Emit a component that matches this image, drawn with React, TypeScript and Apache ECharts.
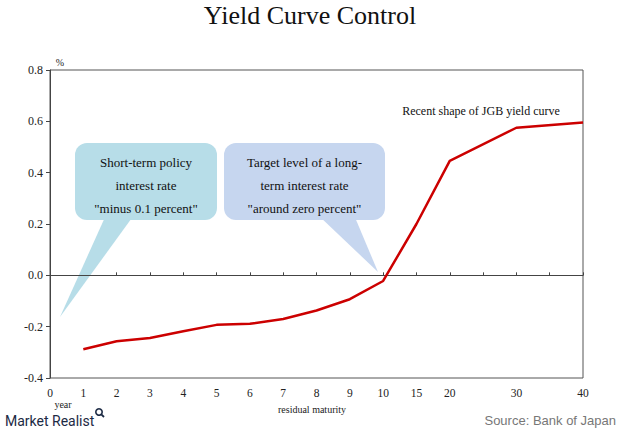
import React, { useEffect, useRef } from "react";
import * as echarts from "echarts";

const categories = ["0", "1", "2", "3", "4", "5", "6", "7", "8", "9", "10", "15", "20", "", "30", "", "40"];
const yields: (number | null)[] = [null, -0.288, -0.257, -0.244, -0.218, -0.193, -0.189, -0.17, -0.137, -0.093, -0.022, 0.2, 0.446, null, 0.575, null, 0.595];
const yMin = -0.4;
const yMax = 0.8;
const yStep = 0.2;

const SERIF = "Liberation Serif";
const SANS = "Liberation Sans";

export default function App() {
  const ref = useRef<HTMLDivElement>(null);
  useEffect(() => {
    if (!ref.current) return;
    const chart = echarts.init(ref.current, undefined, { renderer: "svg" });
    const option: any = {
      animation: false,
      backgroundColor: "#ffffff",
      textStyle: { fontFamily: SERIF },
      title: {
        text: "Yield Curve Control",
        left: "center",
        top: -3,
        textStyle: { fontFamily: SERIF, fontSize: 26, fontWeight: "normal", color: "#111" },
      },
      grid: {
        left: 50,
        right: 37,
        top: 70,
        bottom: 50,
        show: true,
        borderColor: "#555",
        borderWidth: 1,
      },
      xAxis: {
        type: "category",
        data: categories,
        boundaryGap: false,
        axisLine: { lineStyle: { color: "#444", width: 1 } },
        axisTick: { show: true, inside: true, length: 3, interval: 0, lineStyle: { color: "#444" } },
        axisLabel: { interval: 0, fontFamily: SERIF, fontSize: 11.5, color: "#222", margin: 9 },
        splitLine: { show: false },
      },
      yAxis: {
        type: "value",
        min: yMin,
        max: yMax,
        interval: yStep,
        axisLine: { show: true, lineStyle: { color: "#444", width: 1 } },
        axisTick: { show: true, length: 4, lineStyle: { color: "#444" } },
        axisLabel: {
          fontFamily: SERIF,
          fontSize: 12,
          color: "#222",
          margin: 7,
          formatter: (v: number) => v.toFixed(1),
        },
        splitLine: { show: false },
      },
      series: [
        {
          type: "line",
          data: yields,
          connectNulls: true,
          showSymbol: false,
          symbol: "none",
          lineStyle: { color: "#cc0000", width: 2.5 },
          z: 5,
          markLine: {
            silent: true,
            symbol: "none",
            label: { show: false },
            lineStyle: { color: "#444", width: 1, type: "solid" },
            data: [{ yAxis: 0 }],
            z: 1,
          },
        },
      ],
      graphic: [
        {
          type: "polygon",
          shape: { points: [[106, 215], [134, 215], [60, 317]] },
          style: { fill: "#b7dde8" },
          z: 1,
        },
        {
          type: "rect",
          shape: { x: 75, y: 143, width: 142, height: 77, r: 12 },
          style: { fill: "#b7dde8" },
          z: 1,
        },
        {
          type: "text",
          x: 146,
          y: 185,
          style: {
            text: 'Short-term policy\ninterest rate\n"minus 0.1 percent"',
            fontFamily: SERIF,
            fontSize: 13,
            lineHeight: 23,
            fill: "#111",
            align: "center",
            verticalAlign: "middle",
          },
          z: 2,
        },
        {
          type: "polygon",
          shape: { points: [[318, 215], [354, 215], [378, 272]] },
          style: { fill: "#c6d6ef" },
          z: 1,
        },
        {
          type: "rect",
          shape: { x: 224, y: 143, width: 161, height: 77, r: 12 },
          style: { fill: "#c6d6ef" },
          z: 1,
        },
        {
          type: "text",
          x: 304.5,
          y: 185,
          style: {
            text: 'Target level of a long-\nterm interest rate\n"around zero percent"',
            fontFamily: SERIF,
            fontSize: 13,
            lineHeight: 23,
            fill: "#111",
            align: "center",
            verticalAlign: "middle",
          },
          z: 2,
        },
        {
          type: "text",
          x: 481,
          y: 111,
          style: {
            text: "Recent shape of JGB yield curve",
            fontFamily: SERIF,
            fontSize: 12,
            fill: "#111",
            align: "center",
            verticalAlign: "middle",
          },
        },
        {
          type: "text",
          x: 60,
          y: 62,
          style: { text: "%", fontFamily: SERIF, fontSize: 10, fill: "#222", align: "center", verticalAlign: "middle" },
        },
        {
          type: "text",
          x: 63,
          y: 404,
          style: { text: "year", fontFamily: SERIF, fontSize: 10, fill: "#222", align: "center", verticalAlign: "middle" },
        },
        {
          type: "text",
          x: 312,
          y: 409,
          style: { text: "residual maturity", fontFamily: SERIF, fontSize: 10, fill: "#222", align: "center", verticalAlign: "middle" },
        },
        {
          type: "text",
          x: 5,
          y: 421,
          style: { text: "Market Realist", fontFamily: "Roboto", fontSize: 14, fill: "#1c2a44", align: "left", verticalAlign: "middle" },
        },
        {
          type: "circle",
          shape: { cx: 99, cy: 412, r: 3.2 },
          style: { fill: "none", stroke: "#1c2a44", lineWidth: 1.6 },
        },
        {
          type: "line",
          shape: { x1: 101.3, y1: 414.3, x2: 104, y2: 417 },
          style: { stroke: "#1c2a44", lineWidth: 1.8 },
        },
        {
          type: "text",
          x: 616,
          y: 420,
          style: { text: "Source: Bank of Japan", fontFamily: SANS, fontSize: 13, fill: "#777", align: "right", verticalAlign: "middle" },
        },
      ],
    };
    chart.setOption(option);
    return () => chart.dispose();
  }, []);
  return <div ref={ref} style={{ width: 620, height: 428, position: "absolute", left: 0, top: 0 }} />;
}
